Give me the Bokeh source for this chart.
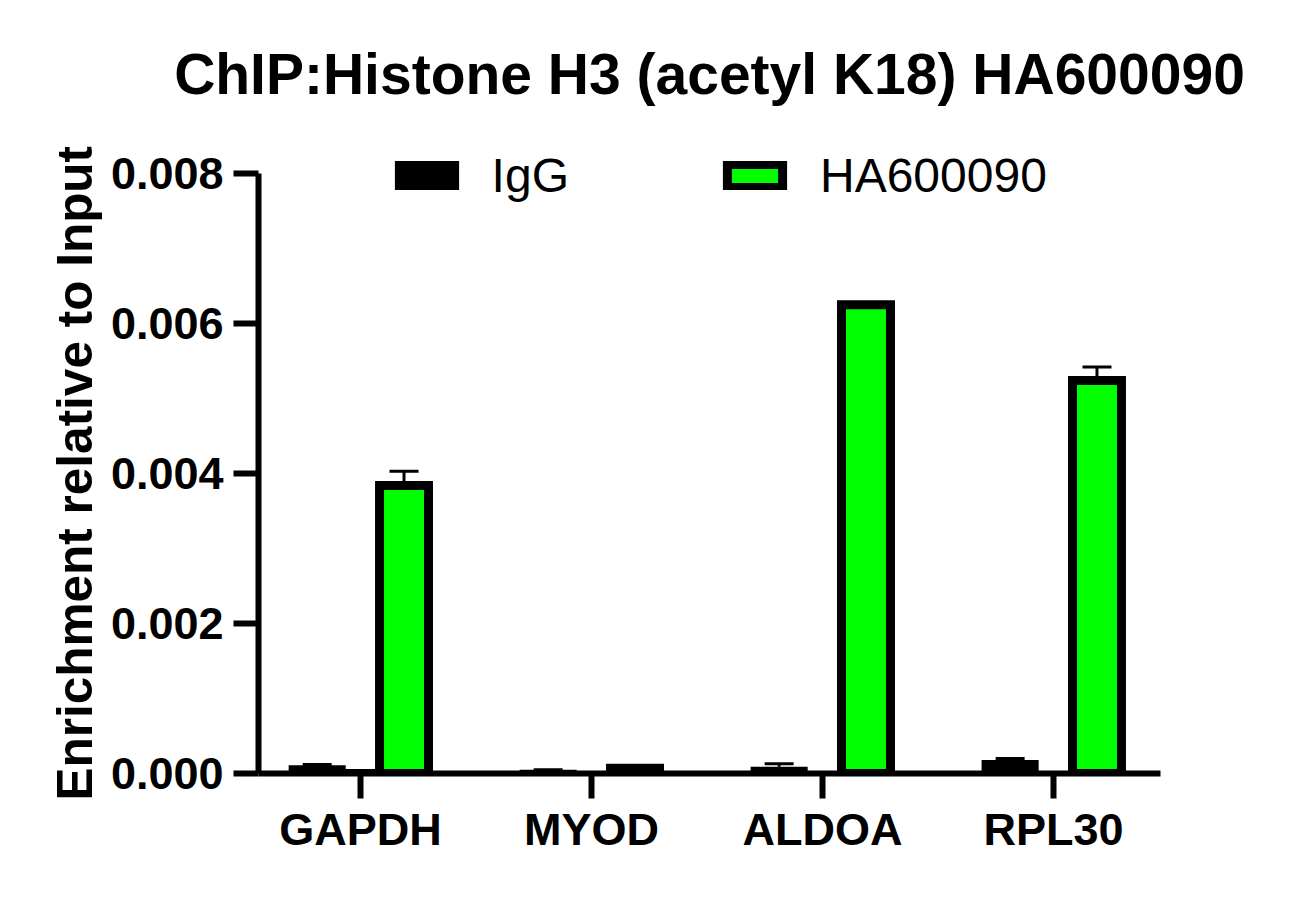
from bokeh.plotting import figure
from bokeh.models import (Range1d, Legend, LegendItem, Whisker, ColumnDataSource,
                          FixedTicker, TeeHead, Title)
from bokeh.embed import file_html
from bokeh.resources import INLINE

# ---- data ----
genes = ["GAPDH", "MYOD", "ALDOA", "RPL30"]
igg = [0.00011, 0.00005, 0.00009, 0.00018]
igg_err = [0.00001, 0.0, 0.00004, 0.00002]
ha = [0.00384, 0.00007, 0.00625, 0.00524]
ha_err = [0.00019, 0.00001, 0.00003, 0.00018]
y_ticks = [0.0, 0.002, 0.004, 0.006, 0.008]
y_tick_labels = ["0.000", "0.002", "0.004", "0.006", "0.008"]
series_names = ["IgG", "HA600090"]
title_text = "ChIP:Histone H3 (acetyl K18) HA600090"
y_label = "Enrichment relative to Input"

FONT = "Liberation Sans"
GREEN = "#00FF00"
OFF = 0.188

idx = list(range(len(genes)))
src_igg = ColumnDataSource(dict(
    x=[i - OFF for i in idx], top=igg,
    upper=[t + e for t, e in zip(igg, igg_err)]))
src_ha = ColumnDataSource(dict(
    x=[i + OFF for i in idx], top=ha,
    upper=[t + e for t, e in zip(ha, ha_err)]))

p = figure(frame_width=902, frame_height=633,
           x_range=Range1d(-0.442, 3.463), y_range=Range1d(0, 0.00844),
           output_backend="svg", toolbar_location=None,
           min_border_left=258, min_border_right=130,
           min_border_top=140, min_border_bottom=132)
p.outline_line_color = None
p.grid.visible = False
p.background_fill_color = "white"
p.border_fill_color = "white"

r_igg = p.vbar(x="x", top="top", width=0.247, bottom=0, source=src_igg,
               fill_color="black", line_color=None)
r_ha = p.vbar(x="x", top="top", width=0.212, bottom=0, source=src_ha,
              fill_color=GREEN, line_color="black", line_width=9,
              line_join="miter")

for src in (src_igg, src_ha):
    w = Whisker(source=src, base="x", lower="top", upper="upper",
                dimension="height", line_color="black", line_width=3,
                lower_head=None,
                upper_head=TeeHead(size=29, line_width=3, line_color="black"))
    p.add_layout(w)

# legend (dummy renderers give the swatch look)
d_igg = p.vbar(x=[0], top=[0], width=0.2, fill_color="black", line_color="black",
               line_width=9, line_join="miter")
d_ha = p.vbar(x=[0], top=[0], width=0.2, fill_color=GREEN, line_color="black",
              line_width=9, line_join="miter")
leg = Legend(items=[LegendItem(label=series_names[0], renderers=[d_igg]),
                    LegendItem(label=series_names[1], renderers=[d_ha])],
             orientation="horizontal", location=(133.6, 570),
             glyph_width=69, glyph_height=29, label_standoff=31, spacing=151,
             padding=0, margin=0, border_line_color=None,
             background_fill_alpha=0,
             label_text_font=FONT, label_text_font_size="48px",
             label_text_color="black")
p.add_layout(leg)

# title
p.title.text = title_text
p.title.text_font = FONT
p.title.text_font_size = "57px"
p.title.text_font_style = "bold"
p.title.align = "center"
p.title.text_color = "black"
p.title.standoff = 70

# y axis label as a side title (so it can be placed along the axis)
yl = Title(text=y_label, align="left", offset=-27, text_font=FONT,
           text_font_size="49.5px", text_font_style="bold", text_color="black",
           standoff=12)
p.add_layout(yl, "left")

# axes
for ax in (p.xaxis[0], p.yaxis[0]):
    ax.axis_line_width = 6
    ax.axis_line_color = "black"
    ax.major_tick_line_width = 6
    ax.major_tick_line_color = "black"
    ax.major_tick_out = 25
    ax.major_tick_in = 0
    ax.minor_tick_line_color = None
    ax.major_label_text_font = FONT
    ax.major_label_text_font_style = "bold"
    ax.major_label_text_font_size = "45px"
    ax.major_label_text_color = "black"

p.xaxis.ticker = FixedTicker(ticks=idx)
p.xaxis.major_label_overrides = {i: g for i, g in zip(idx, genes)}
p.xaxis.major_label_standoff = 5

p.yaxis.ticker = FixedTicker(ticks=y_ticks)
p.yaxis.bounds = (y_ticks[0], y_ticks[-1])
p.yaxis.major_label_overrides = {t: l for t, l in zip(y_ticks, y_tick_labels)}
p.yaxis.major_label_standoff = 10

open("out.html", "w").write(file_html(p, INLINE))
